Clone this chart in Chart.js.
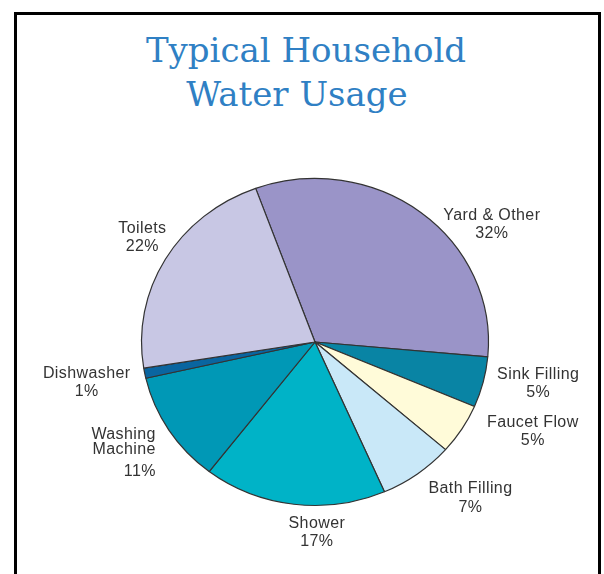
<!DOCTYPE html>
<html>
<head>
<meta charset="utf-8">
<script src="https://cdn.jsdelivr.net/npm/chart.js@4"></script>
<style>
  html, body { margin: 0; padding: 0; background: #fff; }
  #wrap { position: relative; width: 604px; height: 574px; overflow: hidden; }
  #frame { position: absolute; left: 14px; top: 12px; width: 581px; height: 600px;
           border: 3px solid #000; border-bottom: none; }
  .ttl { position: absolute; left: 0; width: 604px; text-align: center;
         font-family: "DejaVu Serif", serif; font-size: 34px; color: #2f80c4;
         line-height: 1; white-space: nowrap; }
  canvas { position: absolute; left: 0; top: 0; }
</style>
</head>
<body>
<div id="wrap">
  <div id="frame"></div>
  <div class="ttl" id="t1" style="top:33px; left:4px;">Typical Household</div>
  <div class="ttl" id="t2" style="top:77px; left:-5px;">Water Usage</div>
  <canvas id="pie" width="604" height="574"></canvas>
</div>
<script>
// data
const categories = ['Yard & Other', 'Sink Filling', 'Faucet Flow', 'Bath Filling', 'Shower', ['Washing', 'Machine'], 'Dishwasher', 'Toilets'];
const usagePct = [32, 5, 5, 7, 17, 11, 1, 22];
const sliceColors = ['#9a94c8', '#0984a4', '#fffbd9', '#c9e8f8', '#00b3c7', '#0098b6', '#0a65a0', '#c8c7e4'];

// picture is a bit squashed vertically
const squash = 163.5 / 173.5;

// where each label sits relative to its slice edge (name line centre)
const labelOffsets = [
    { dx: 71, dy: 3 },
    { dx: 55, dy: -8 },
    { dx: 71, dy: -7 },
    { dx: 53, dy: 15 },
    { dx: 23, dy: 19 },
    { dx: -13, dy: 5, align: 'right', gap: 22.5 },
    { dx: -58, dy: 0 },
    { dx: -23, dy: -31 }
];

const squashPlugin = {
    id: 'squash',
    beforeDatasetsDraw(chart) {
        const arc = chart.getDatasetMeta(0).data[0];
        const ctx = chart.ctx;
        ctx.save();
        ctx.translate(arc.x, arc.y);
        ctx.scale(1, squash);
        ctx.translate(-arc.x, -arc.y);
    },
    afterDatasetsDraw(chart) {
        chart.ctx.restore();
    }
};

const outLabels = {
    id: 'outLabels',
    afterDraw(chart) {
        const ctx = chart.ctx;
        const arcs = chart.getDatasetMeta(0).data;
        ctx.save();
        ctx.font = '16px "Liberation Sans", Arial, sans-serif';
        ctx.letterSpacing = '0.4px';
        ctx.fillStyle = '#333';
        ctx.textBaseline = 'middle';
        arcs.forEach((a, i) => {
            const mid = (a.startAngle + a.endAngle) / 2;
            const ex = a.x + a.outerRadius * Math.cos(mid);
            const ey = a.y + a.outerRadius * Math.sin(mid) * squash;
            const o = labelOffsets[i];
            const lines = [].concat(categories[i]);
            ctx.textAlign = o.align || 'center';
            let y = ey + o.dy;
            lines.forEach((ln, k) => {
                ctx.fillText(ln, ex + o.dx, y);
                if (k < lines.length - 1) y += 14.5;
            });
            y += o.gap || 18.5;
            ctx.fillText(usagePct[i] + '%', ex + o.dx, y);
        });
        ctx.restore();
    }
};

new Chart(document.getElementById('pie'), {
    type: 'pie',
    data: {
        labels: categories,
        datasets: [{
            data: usagePct,
            backgroundColor: sliceColors,
            borderColor: '#333',
            borderWidth: 1.2
        }]
    },
    options: {
        responsive: false,
        animation: false,
        rotation: -20,
        radius: 173.5,
        layout: { padding: { left: 141.5, right: 115.5, top: 168.5, bottom: 58.5 } },
        plugins: {
            legend: { display: false },
            tooltip: { enabled: false }
        }
    },
    plugins: [squashPlugin, outLabels]
});
</script>
</body>
</html>
